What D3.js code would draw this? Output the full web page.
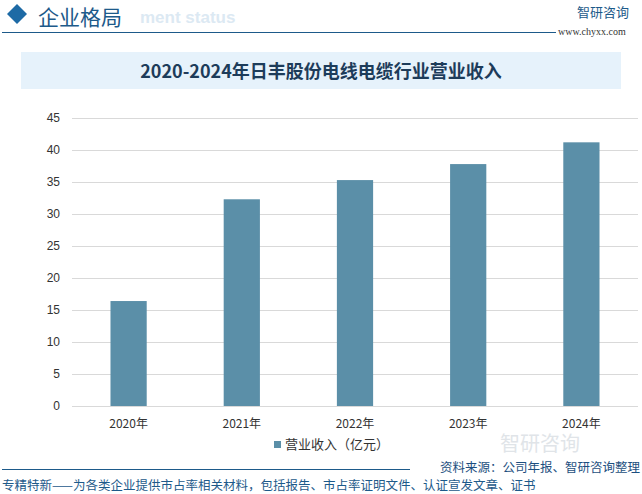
<!DOCTYPE html>
<html><head><meta charset="utf-8">
<script src="https://cdn.jsdelivr.net/npm/d3@7"></script>
<style>body{margin:0;background:#fff}svg{display:block;font-family:"Noto Sans CJK SC","Noto Sans",sans-serif}</style>
</head><body><svg width="642" height="494"></svg>
<script>
var years = ["2020年", "2021年", "2022年", "2023年", "2024年"];
var revenue = [16.4, 32.3, 35.3, 37.8, 41.2];
var yTicks = [0, 5, 10, 15, 20, 25, 30, 35, 40, 45];

var svg = d3.select("svg");

// header
svg.append("path").attr("d", "M7,14 L17,4 L27,14 L17,24 Z").attr("fill", "#1d6aa5");
svg.append("text").attr("x", 140).attr("y", 23).text("ment status")
  .attr("font-size", 17).attr("font-weight", "bold").attr("fill", "#dce9f3").attr("font-family", "Arial");
svg.append("text").attr("x", 38).attr("y", 25).text("企业格局")
  .attr("font-size", 21).attr("fill", "#1d5a8a");
svg.append("line").attr("x1", 2).attr("x2", 556).attr("y1", 32.5).attr("y2", 32.5).attr("stroke", "#1d5a8a");
svg.append("text").attr("x", 577).attr("y", 17).text("智研咨询").attr("font-size", 13).attr("fill", "#1d5a8a");
svg.append("text").attr("x", 558).attr("y", 35).text("www.chyxx.com").attr("font-size", 10).attr("fill", "#333").attr("font-family", "Liberation Serif");

svg.append("rect").attr("x", 21).attr("y", 52).attr("width", 600).attr("height", 37).attr("fill", "#e6f2fb");
svg.append("text").attr("x", 321).attr("y", 78).attr("text-anchor", "middle")
  .text("2020-2024年日丰股份电线电缆行业营业收入")
  .attr("font-size", 18).attr("font-weight", "bold").attr("fill", "#1d3c5a");

var x = d3.scaleBand().domain(years).range([72, 638]).paddingInner(0.68).paddingOuter(0.34);
var y = d3.scaleLinear().domain([0, 45]).range([406, 118]);

var g = svg.append("g");
g.selectAll(".grid").data(yTicks).join("line")
  .attr("x1", 72).attr("x2", 638).attr("y1", d => y(d) + 0.5).attr("y2", d => y(d) + 0.5)
  .attr("stroke", "#d9d9d9");
g.selectAll(".yl").data(yTicks).join("text")
  .attr("x", 60).attr("y", d => y(d) + 4).attr("text-anchor", "end")
  .attr("font-size", 12).attr("fill", "#333").attr("font-family", "Liberation Sans").text(d => d);
g.selectAll(".bar").data(revenue).join("rect")
  .attr("x", (d, i) => x(years[i])).attr("width", x.bandwidth())
  .attr("y", d => y(d)).attr("height", d => y(0) - y(d)).attr("fill", "#5b8fa8");
g.selectAll(".xl").data(years).join("text")
  .attr("x", d => x(d) + x.bandwidth() / 2).attr("y", 428).attr("text-anchor", "middle")
  .attr("font-size", 12).attr("fill", "#333").text(d => d);

svg.append("text").attr("x", 500).attr("y", 451).text("智研咨询").attr("font-size", 20).attr("fill", "#ccd3da").attr("opacity", 0.6);
svg.append("rect").attr("x", 274).attr("y", 441).attr("width", 7).attr("height", 7).attr("fill", "#5b8fa8");
svg.append("text").attr("x", 285).attr("y", 449).text("营业收入（亿元）").attr("font-size", 13).attr("fill", "#333");

svg.append("text").attr("x", 640).attr("y", 472).attr("text-anchor", "end")
  .text("资料来源：公司年报、智研咨询整理").attr("font-size", 12.5).attr("fill", "#1d4f80");
svg.append("line").attr("x1", 2).attr("x2", 410).attr("y1", 469.5).attr("y2", 469.5).attr("stroke", "#1d5a8a");
svg.append("text").attr("x", 2).attr("y", 490)
  .text("专精特新——为各类企业提供市占率相关材料，包括报告、市占率证明文件、认证宣发文章、证书")
  .attr("font-size", 12.5).attr("fill", "#1d5a8a");
</script></body></html>
